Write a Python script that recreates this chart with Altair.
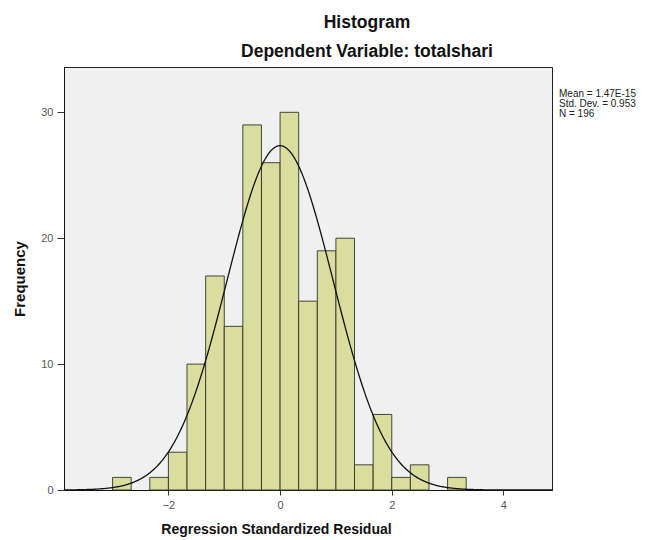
import altair as alt
import pandas as pd

# Histogram bins (left edges) and frequencies
bin_left = [-3.000, -2.333, -2.000, -1.667, -1.333, -1.000, -0.667, -0.333,
            0.000, 0.333, 0.667, 1.000, 1.333, 1.667, 2.000, 2.333, 3.000]
counts = [1, 1, 3, 10, 17, 13, 29, 26, 30, 15, 19, 20, 2, 6, 1, 2, 1]
bin_width = 1.0 / 3.0

# Summary statistics shown in the chart
mean_val = 1.47e-15
sd_val = 0.953
n_val = 196
stat_lines = ["Mean = 1.47E-15", "Std. Dev. = 0.953", "N = 196"]

x_ticks = [-2, 0, 2, 4]
y_ticks = [0, 10, 20, 30]

df = pd.DataFrame({"lo": bin_left, "count": counts})
df["hi"] = df["lo"] + bin_width

x_dom = [-3.87, 4.87]
y_dom = [0, 33.6]
W, H = 488, 423
FONT = "Liberation Sans"

xscale = alt.Scale(domain=x_dom, nice=False, zero=False)
yscale = alt.Scale(domain=y_dom, nice=False)

bars = alt.Chart(df).mark_bar(
    fill="#d8dc9a", stroke="#3b3f2c", strokeWidth=1, opacity=0.95
).encode(
    x=alt.X("lo:Q", scale=xscale,
            axis=alt.Axis(values=x_ticks, format="d", title="Regression Standardized Residual",
                          grid=False, tickSize=5, labelPadding=4, labelFontSize=11,
                          labelColor="#555", labelFont=FONT, titleFont=FONT,
                          titleFontSize=14, titleFontWeight="bold", titleColor="#111",
                          titlePadding=12, domainColor="#111", tickColor="#333",
                          titleX=212)),
    x2="hi:Q",
    y=alt.Y("count:Q", scale=yscale,
            axis=alt.Axis(values=y_ticks, format="d", title="Frequency", grid=False, tickSize=7,
                          labelPadding=4, labelFontSize=11, labelColor="#555",
                          labelFont=FONT, titleFont=FONT, titleFontSize=15,
                          titleFontWeight="bold", titleColor="#111", titlePadding=13,
                          domainColor="#111", tickColor="#333")),
    y2=alt.datum(0),
)

curve = alt.Chart(alt.sequence(start=x_dom[0], stop=x_dom[1] + 0.01, step=0.02, as_="x")).transform_calculate(
    y=f"{n_val} * {bin_width} / ({sd_val} * sqrt(2 * PI)) * exp(-0.5 * pow((datum.x - {mean_val}) / {sd_val}, 2))"
).mark_line(color="#111", strokeWidth=1.3, clip=True).encode(
    x=alt.X("x:Q", scale=xscale),
    y=alt.Y("y:Q", scale=yscale),
)

base_txt = alt.Chart(pd.DataFrame({"k": [0]}))

title1 = base_txt.mark_text(text="Histogram", font=FONT, fontSize=17.5, fontWeight="bold",
                            color="#111", align="center", baseline="alphabetic").encode(
    x=alt.value(303), y=alt.value(-39))
title2 = base_txt.mark_text(text="Dependent Variable: totalshari", font=FONT, fontSize=17.5,
                            fontWeight="bold", color="#111", align="center",
                            baseline="alphabetic").encode(
    x=alt.value(303), y=alt.value(-10))
stats = base_txt.mark_text(text=stat_lines, font=FONT, fontSize=10, lineHeight=10,
                           color="#222", align="left", baseline="middle").encode(
    x=alt.value(495), y=alt.value(27))

chart = alt.layer(bars, curve, title1, title2, stats).properties(
    width=W, height=H,
    autosize=alt.AutoSizeParams(type="none"),
    padding={"left": 56, "top": 59, "right": 100, "bottom": 48},
    background="white",
).configure_view(fill="#f0f0f0", stroke="#222", strokeWidth=1)

chart.save("out.html", embed_options={"renderer": "svg", "actions": False})
